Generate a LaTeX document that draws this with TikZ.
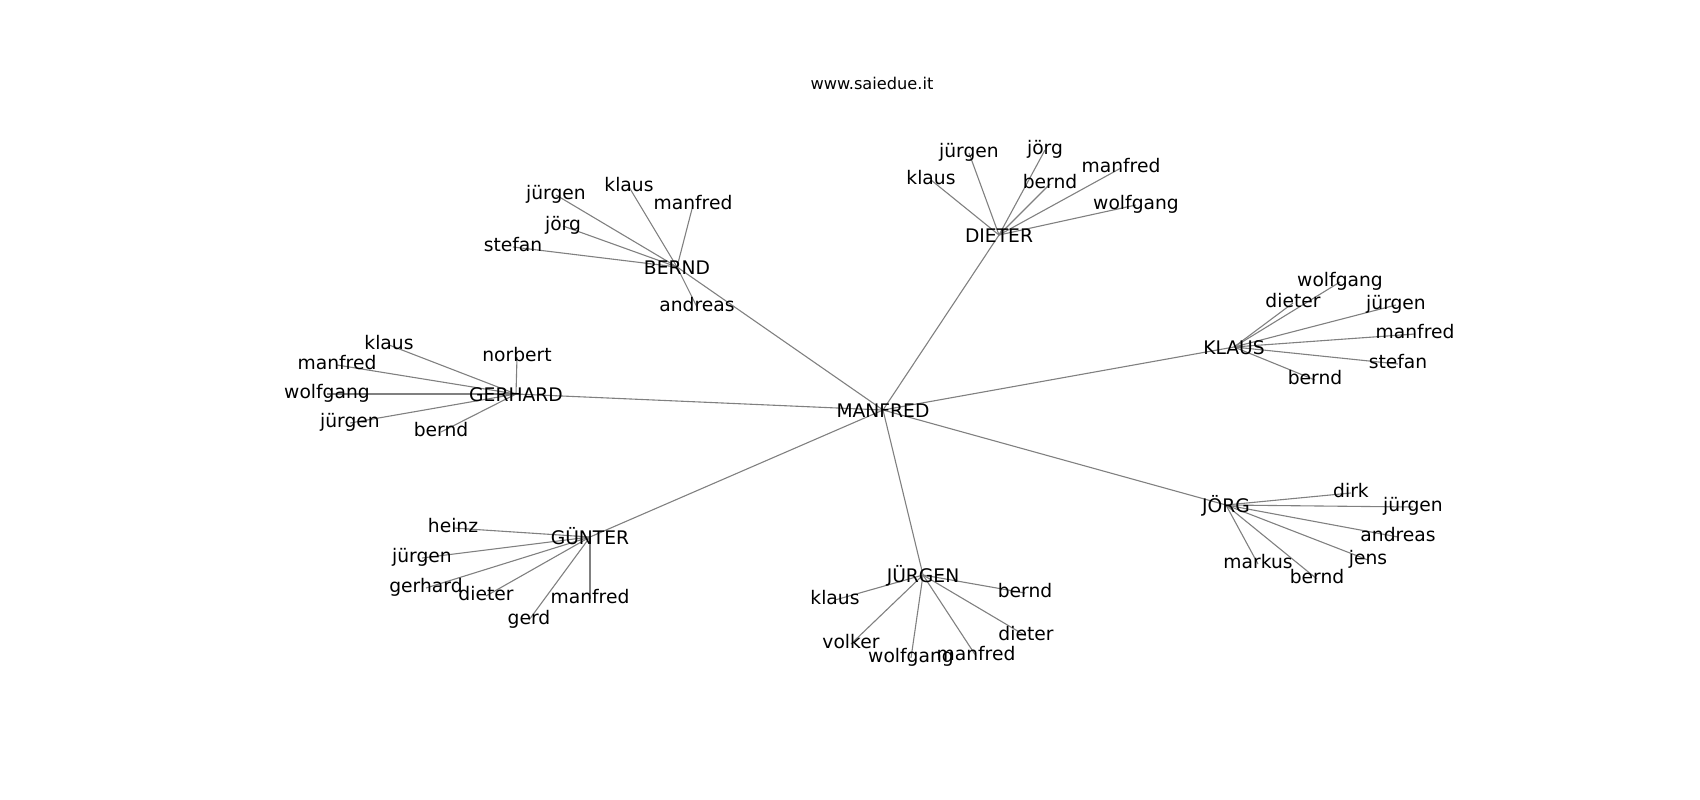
\documentclass[tikz,border=0pt]{standalone}
\usepackage{fontspec}
\setmainfont{DejaVu Sans}
\begin{document}
\begin{tikzpicture}[x=1pt,y=-1pt,
  lbl/.style={inner sep=0pt,anchor=center,text height=14.2pt,text depth=4.5pt,font=\fontsize{18.7}{22}\selectfont},
  hub/.style={lbl,yshift=-2.5pt},
  edge/.style={draw=gray,line width=1.1pt}]
\useasboundingbox (0,0) rectangle (1700,800);
\node[inner sep=0pt,font=\fontsize{16.2}{19}\selectfont] (title) at (872,83) {www.saiedue.it};
% hubs
\coordinate (M) at (883,410);
\coordinate (B) at (677,267);
\coordinate (D) at (999,235);
\coordinate (K) at (1234,347);
\coordinate (G) at (516,394);
\coordinate (U) at (590,537);
\coordinate (J) at (923,575);
\coordinate (O) at (1226,505);
% leaves of BERND
\coordinate (b1) at (556,195); \coordinate (b2) at (629,187); \coordinate (b3) at (693,205);
\coordinate (b4) at (563,226); \coordinate (b5) at (513,247); \coordinate (b6) at (697,307);
% leaves of DIETER
\coordinate (d1) at (969,153); \coordinate (d2) at (1045,150); \coordinate (d3) at (931,180);
\coordinate (d4) at (1050,184); \coordinate (d5) at (1121,168); \coordinate (d6) at (1136,205);
% leaves of KLAUS
\coordinate (k1) at (1340,282); \coordinate (k2) at (1293,303); \coordinate (k3) at (1396,305);
\coordinate (k4) at (1415,334); \coordinate (k5) at (1398,364); \coordinate (k6) at (1315,380);
% leaves of GERHARD
\coordinate (g1) at (389,345); \coordinate (g2) at (337,365); \coordinate (g3) at (517,357);
\coordinate (g4) at (327,394); \coordinate (g5) at (350,423); \coordinate (g6) at (441,432);
% leaves of GUENTER
\coordinate (u1) at (453,528); \coordinate (u2) at (422,558); \coordinate (u3) at (426,588);
\coordinate (u4) at (486,596); \coordinate (u5) at (529,620); \coordinate (u6) at (590,599);
% leaves of JUERGEN
\coordinate (j1) at (835,600); \coordinate (j2) at (1025,593); \coordinate (j3) at (851,644);
\coordinate (j4) at (1026,636); \coordinate (j5) at (911,658); \coordinate (j6) at (976,656);
% leaves of JOERG
\coordinate (o1) at (1351,493); \coordinate (o2) at (1413,507); \coordinate (o3) at (1398,537);
\coordinate (o4) at (1368,560); \coordinate (o5) at (1258,564); \coordinate (o6) at (1317,579);
% edges
\foreach \h in {B,D,K,G,U,J,O} \draw[edge] (M) -- (\h);
\foreach \i in {1,...,6} {
  \draw[edge] (B) -- (b\i); \draw[edge] (D) -- (d\i); \draw[edge] (K) -- (k\i);
  \draw[edge] (G) -- (g\i); \draw[edge] (U) -- (u\i); \draw[edge] (J) -- (j\i);
  \draw[edge] (O) -- (o\i);
}
% labels
\node[hub] (nM) at (M) {MANFRED};
\node[hub] (nB) at (B) {BERND};
\node[hub] (nD) at (D) {DIETER};
\node[hub] (nK) at (K) {KLAUS};
\node[hub] (nG) at (G) {GERHARD};
\node[hub] (nU) at (U) {GÜNTER};
\node[hub] (nJ) at (J) {JÜRGEN};
\node[hub] (nO) at (O) {JÖRG};
\node[lbl] (nb1) at (b1) {jürgen}; \node[lbl] (nb2) at (b2) {klaus}; \node[lbl] (nb3) at (b3) {manfred};
\node[lbl] (nb4) at (b4) {jörg}; \node[lbl] (nb5) at (b5) {stefan}; \node[lbl] (nb6) at (b6) {andreas};
\node[lbl] (nd1) at (d1) {jürgen}; \node[lbl] (nd2) at (d2) {jörg}; \node[lbl] (nd3) at (d3) {klaus};
\node[lbl] (nd4) at (d4) {bernd}; \node[lbl] (nd5) at (d5) {manfred}; \node[lbl] (nd6) at (d6) {wolfgang};
\node[lbl] (nk1) at (k1) {wolfgang}; \node[lbl] (nk2) at (k2) {dieter}; \node[lbl] (nk3) at (k3) {jürgen};
\node[lbl] (nk4) at (k4) {manfred}; \node[lbl] (nk5) at (k5) {stefan}; \node[lbl] (nk6) at (k6) {bernd};
\node[lbl] (ng1) at (g1) {klaus}; \node[lbl] (ng2) at (g2) {manfred}; \node[lbl] (ng3) at (g3) {norbert};
\node[lbl] (ng4) at (g4) {wolfgang}; \node[lbl] (ng5) at (g5) {jürgen}; \node[lbl] (ng6) at (g6) {bernd};
\node[lbl] (nu1) at (u1) {heinz}; \node[lbl] (nu2) at (u2) {jürgen}; \node[lbl] (nu3) at (u3) {gerhard};
\node[lbl] (nu4) at (u4) {dieter}; \node[lbl] (nu5) at (u5) {gerd}; \node[lbl] (nu6) at (u6) {manfred};
\node[lbl] (nj1) at (j1) {klaus}; \node[lbl] (nj2) at (j2) {bernd}; \node[lbl] (nj3) at (j3) {volker};
\node[lbl] (nj4) at (j4) {dieter}; \node[lbl] (nj5) at (j5) {wolfgang}; \node[lbl] (nj6) at (j6) {manfred};
\node[lbl] (no1) at (o1) {dirk}; \node[lbl] (no2) at (o2) {jürgen}; \node[lbl] (no3) at (o3) {andreas};
\node[lbl] (no4) at (o4) {jens}; \node[lbl] (no5) at (o5) {markus}; \node[lbl] (no6) at (o6) {bernd};
\end{tikzpicture}
\end{document}
